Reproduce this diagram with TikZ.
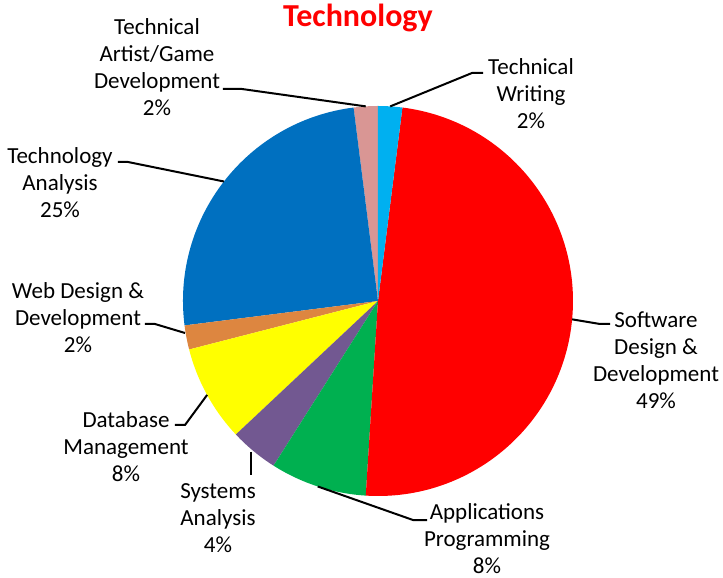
\documentclass[tikz,border=0pt]{standalone}
\usepackage{fontspec}
\setmainfont{Carlito}

\definecolor{twblue}{RGB}{0,176,240}
\definecolor{sdred}{RGB}{255,0,0}
\definecolor{apgreen}{RGB}{0,176,80}
\definecolor{sapurple}{RGB}{114,88,145}
\definecolor{dbyellow}{RGB}{255,255,0}
\definecolor{wdorange}{RGB}{221,134,64}
\definecolor{tablue}{RGB}{0,112,192}
\definecolor{gapink}{RGB}{217,150,148}

\begin{document}
\begin{tikzpicture}[x=1pt,y=1pt,
  lbl/.style={align=center, inner sep=1pt, font=\fontsize{23}{27}\selectfont},
  leader/.style={draw=black, line width=2pt}]
\useasboundingbox (-378,-277) rectangle (345,301);

% Pie chart
\fill[gapink]   (0,0) -- (90:195)    arc (90:97.2:195)    -- cycle;
\fill[tablue]   (0,0) -- (97.2:195)  arc (97.2:187.2:195) -- cycle;
\fill[wdorange] (0,0) -- (187.2:195) arc (187.2:194.4:195) -- cycle;
\fill[dbyellow] (0,0) -- (194.4:195) arc (194.4:223.2:195) -- cycle;
\fill[sapurple] (0,0) -- (223.2:195) arc (223.2:237.6:195) -- cycle;
\fill[apgreen]  (0,0) -- (237.6:195) arc (237.6:266.4:195) -- cycle;
\fill[sdred]    (0,0) -- (266.4:195) arc (266.4:442.8:195) -- cycle;
\fill[twblue]   (0,0) -- (82.8:195)  arc (82.8:90:195)    -- cycle;

% Title
\node[font=\fontsize{32}{36}\selectfont\bfseries, text=sdred] (title) at (-20,283) {Technology};

% Labels
\node[lbl] (artist)   at (-221,233.5) {Technical\\Artist/Game\\Development\\2\%};
\node[lbl] (writing)  at (153,207)    {Technical\\Writing\\2\%};
\node[lbl] (software) at (278,-59)    {Software\\Design \&\\Development\\49\%};
\node[lbl] (apps)     at (109,-238)   {Applications\\Programming\\8\%};
\node[lbl] (systems)  at (-160,-217)  {Systems\\Analysis\\4\%};
\node[lbl] (database) at (-252,-146)  {Database\\Management\\8\%};
\node[lbl] (web)      at (-300,-17)   {Web Design \&\\Development\\2\%};
\node[lbl] (analysis) at (-318,118)   {Technology\\Analysis\\25\%};

% Leader lines
\coordinate (artpt) at (93.6:195);
\coordinate (artbend) at (-136,212);
\coordinate (artend) at (-155,212);
\draw[leader] (artend) -- (artbend) -- (artpt);

\coordinate (writpt) at (86.4:195);
\coordinate (writbend) at (94,228);
\coordinate (writend) at (105,228);
\draw[leader] (writend) -- (writbend) -- (writpt);

\coordinate (softpt) at (354.6:195);
\coordinate (softbend) at (222,-23);
\coordinate (softend) at (232,-23);
\draw[leader] (softpt) -- (softbend) -- (softend);

\coordinate (appspt) at (252:195);
\coordinate (appsbend) at (35,-219);
\coordinate (appsend) at (49,-219);
\draw[leader] (appspt) -- (appsbend) -- (appsend);

\coordinate (syspt) at (-127,-151);
\coordinate (sysend) at (-127,-174);
\draw[leader] (syspt) -- (sysend);

\coordinate (dbpt) at (208.8:195);
\coordinate (dbbend) at (-193,-124);
\coordinate (dbend) at (-203,-124);
\draw[leader] (dbpt) -- (dbbend) -- (dbend);

\coordinate (webpt) at (-193,-32);
\coordinate (webbend) at (-223,-23);
\coordinate (webend) at (-233,-23);
\draw[leader] (webpt) -- (webbend) -- (webend);

\coordinate (anapt) at (142.2:195);
\coordinate (anabend) at (-250,139);
\coordinate (anaend) at (-260,139);
\draw[leader] (anapt) -- (anabend) -- (anaend);
\end{tikzpicture}
\end{document}
